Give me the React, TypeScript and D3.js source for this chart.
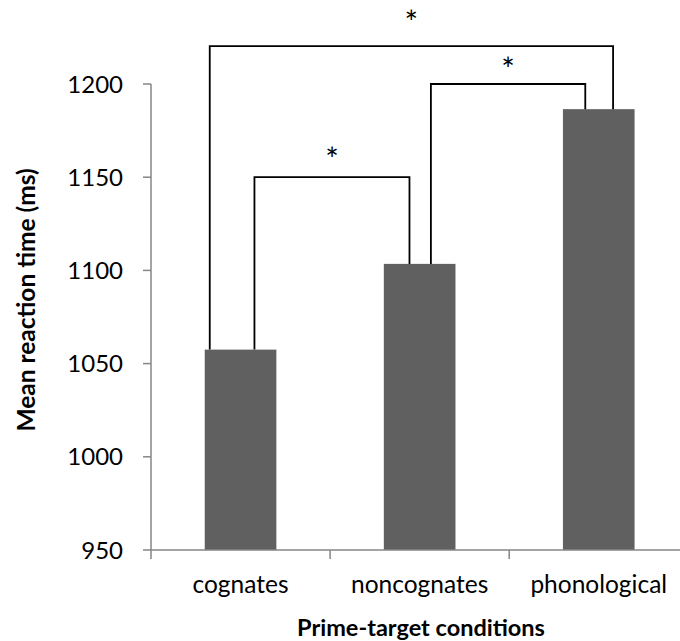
import React from "react";
import * as d3 from "d3";

const categories = ["cognates", "noncognates", "phonological"];
const meanRT = [1057.5, 1103.5, 1186.5];
const yTicks = [950, 1000, 1050, 1100, 1150, 1200];

// significance brackets: categories compared, bracket level (ms), star level (ms),
// and where each leg meets its bar (fraction of bar width from its left edge)
const bracketFrom = ["cognates", "noncognates", "cognates"];
const bracketTo = ["noncognates", "phonological", "phonological"];
const bracketLevel = [1150, 1200, 1220.3];
const starLevel = [1163, 1211, 1236.5];
const legFromFrac = [0.694, 0.657, 0.07];
const legToFrac = [0.358, 0.312, 0.7];
const bracketLabel = ["*", "*", "*"];

const W = 680;
const H = 641;
const FONT = "Lato, 'Open Sans', sans-serif";

export default function App() {
  const x = d3
    .scaleBand<string>()
    .domain(categories)
    .range([151, 151 + 3 * 179.1])
    .paddingInner(0.6)
    .paddingOuter(0.3);
  const y = d3.scaleLinear().domain([950, 1200]).range([550, 84]);

  const valueOf = (c: string) => meanRT[categories.indexOf(c)];
  const bw = x.bandwidth();
  const x0 = x.range()[0];
  const step = x.step();
  const axisColor = "#868686";
  const starSize = 32;

  return (
    <svg
      width={W}
      height={H}
      style={{ position: "absolute", left: 0, top: 0, background: "#fff" }}
      fontFamily={FONT}
    >
      {/* bars */}
      {categories.map((c, i) => (
        <rect
          key={c}
          x={x(c)}
          y={y(meanRT[i])}
          width={bw}
          height={y(950) - y(meanRT[i])}
          fill="#606060"
        />
      ))}

      {/* y axis */}
      <line x1={151} x2={151} y1={y(1200)} y2={y(950)} stroke={axisColor} strokeWidth={1.5} />
      {yTicks.map((t) => (
        <g key={t}>
          <line x1={143} x2={151} y1={y(t)} y2={y(t)} stroke={axisColor} strokeWidth={1.5} />
          <text x={123} y={y(t)} dy="0.36em" textAnchor="end" fontSize={24} fill="#000">
            {t}
          </text>
        </g>
      ))}

      {/* x axis */}
      <line x1={x0} x2={W} y1={y(950)} y2={y(950)} stroke={axisColor} strokeWidth={1.5} />
      {d3.range(categories.length + 1).map((i) => (
        <line
          key={i}
          x1={x0 + i * step}
          x2={x0 + i * step}
          y1={y(950)}
          y2={y(950) + 9}
          stroke={axisColor}
          strokeWidth={1.5}
        />
      ))}
      {categories.map((c) => (
        <text
          key={c}
          x={(x(c) as number) + bw / 2}
          y={593}
          textAnchor="middle"
          fontSize={24.5}
          fill="#000"
        >
          {c}
        </text>
      ))}

      {/* brackets */}
      {bracketFrom.map((f, i) => {
        const t = bracketTo[i];
        const xa = (x(f) as number) + legFromFrac[i] * bw;
        const xb = (x(t) as number) + legToFrac[i] * bw;
        const yl = y(bracketLevel[i]);
        const path = d3.path();
        path.moveTo(xa, y(valueOf(f)));
        path.lineTo(xa, yl);
        path.lineTo(xb, yl);
        path.lineTo(xb, y(valueOf(t)));
        return (
          <g key={i}>
            <path d={path.toString()} fill="none" stroke="#000" strokeWidth={1.8} />
            <text
              x={(xa + xb) / 2}
              y={y(starLevel[i]) + starSize * 0.55}
              textAnchor="middle"
              fontSize={starSize}
              fill="#000"
            >
              {bracketLabel[i]}
            </text>
          </g>
        );
      })}

      {/* axis titles */}
      <text
        transform={`translate(35, 300) rotate(-90)`}
        textAnchor="middle"
        fontSize={24.5}
        fontWeight="bold"
        fill="#000"
      >
        Mean reaction time (ms)
      </text>
      <text x={421} y={636} textAnchor="middle" fontSize={23.5} fontWeight="bold" fill="#000">
        Prime-target conditions
      </text>
    </svg>
  );
}
